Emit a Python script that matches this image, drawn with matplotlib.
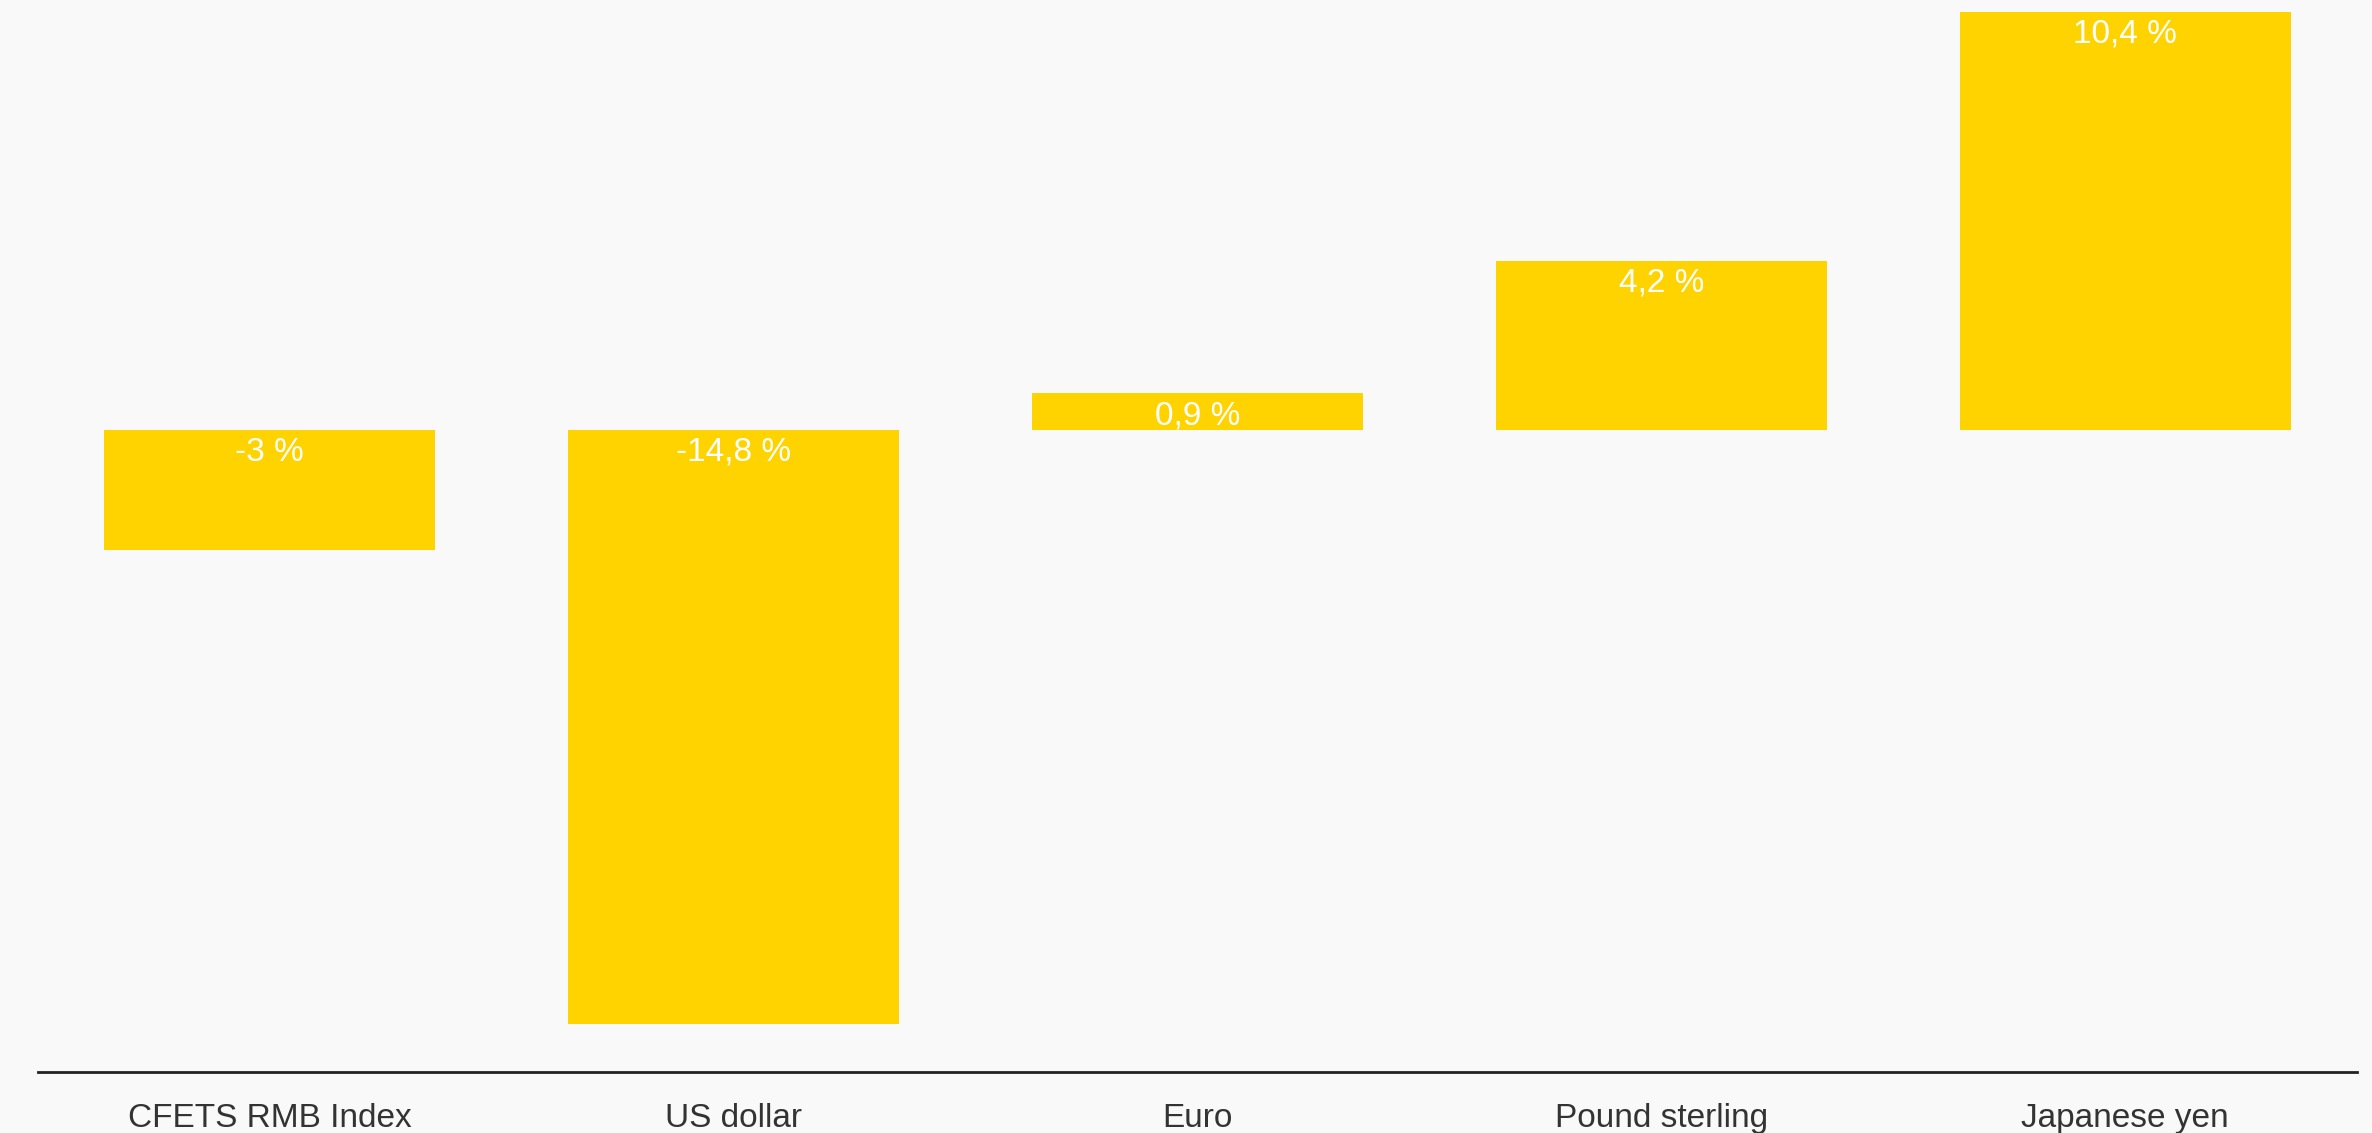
import matplotlib
matplotlib.use("Agg")
import matplotlib.pyplot as plt

# change vs. CFETS basket, per currency
currencies = ["CFETS RMB Index", "US dollar", "Euro", "Pound sterling", "Japanese yen"]
changes = [-3.0, -14.8, 0.9, 4.2, 10.4]
labels = ["-3 %", "-14,8 %", "0,9 %", "4,2 %", "10,4 %"]

BAR_COLOR = "#FFD300"
BG = "#F9F9F9"

plt.rcParams["font.family"] = ["Liberation Sans", "DejaVu Sans"]

fig = plt.figure(figsize=(23.72, 11.33), dpi=100, facecolor=BG)
ax = fig.add_axes([0.016, 0.0538, 0.9777, 0.9356])
ax.set_facecolor(BG)

x = range(len(currencies))
bars = ax.bar(x, changes, width=0.714, color=BAR_COLOR, linewidth=0)

# value labels sit just under the upper edge of each bar
for xi, v, lab in zip(x, changes, labels):
    ax.annotate(lab, (xi, max(v, 0)), xytext=(0, -5), textcoords="offset points",
                ha="center", va="top", color="white", fontsize=24)

ax.set_xlim(-0.5, 4.5)
ax.set_ylim(-16, 10.4)
ax.set_xticks(list(x))
ax.set_xticklabels(currencies, fontsize=24, color="#333333")
ax.tick_params(axis="x", length=0, pad=22)
ax.set_yticks([])

for side in ["top", "right", "left"]:
    ax.spines[side].set_visible(False)
ax.spines["bottom"].set_color("#222222")
ax.spines["bottom"].set_linewidth(2)

fig.savefig("out.png", dpi=100, facecolor=BG)
